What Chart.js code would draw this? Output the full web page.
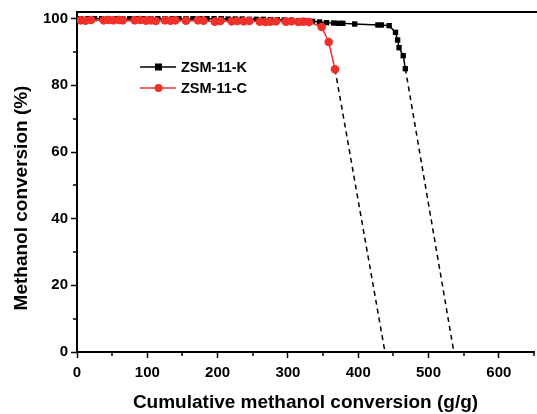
<!DOCTYPE html>
<html>
<head>
<meta charset="utf-8">
<script src="https://cdn.jsdelivr.net/npm/chart.js@4/dist/chart.umd.min.js"></script>
<style>
  html, body { margin: 0; padding: 0; background: #fff; overflow: hidden; }
  #wrap { width: 537px; height: 414px; overflow: hidden; position: relative; }
  canvas { display: block; }
</style>
</head>
<body>
<div id="wrap"><canvas id="c" width="540" height="414"></canvas></div>
<script>
// ---- data ----
const kX = [5, 15, 25, 35, 45, 55, 65, 75, 85, 95, 105, 115, 125, 135, 145, 155, 165, 175, 185, 195,
            205, 215, 225, 235, 245, 255, 265, 275, 285, 295, 305, 315, 325, 335, 345, 355, 365, 372,
            378, 395, 428, 433, 444, 453, 456, 458, 464, 467];
const kY = [100, 100, 100, 100, 100, 100, 100, 100, 100, 100, 100, 100, 100, 100, 100, 100, 100, 100, 100, 100,
            100, 99.9, 99.9, 99.9, 99.8, 99.8, 99.8, 99.7, 99.7, 99.6, 99.5, 99.4, 99.3, 99.2, 99.0, 98.8, 98.7, 98.6,
            98.6, 98.4, 98.1, 98.1, 97.9, 95.9, 93.6, 91.3, 88.9, 85.0];
const cX = [5, 12, 20, 38, 45, 52, 60, 65, 82, 90, 98, 105, 112, 125, 133, 140, 155, 172, 180, 196,
            204, 220, 228, 237, 245, 260, 268, 275, 283, 297, 305, 315, 322, 330, 348, 358, 367];
const cY = [99.5, 99.4, 99.6, 99.5, 99.6, 99.5, 99.6, 99.5, 99.5, 99.6, 99.4, 99.5, 99.3, 99.5, 99.4, 99.5, 99.4, 99.5, 99.4, 99.1,
            99.3, 99.2, 99.3, 99.2, 99.3, 99.1, 99.0, 99.1, 99.2, 99.1, 99.2, 99.0, 99.1, 99.0, 97.5, 93.0, 84.8];
const kExtX = [467, 536];
const kExtY = [85.0, 0];
const cExtX = [367, 438];
const cExtY = [84.8, 0];
const xTicks = [0, 50, 100, 150, 200, 250, 300, 350, 400, 450, 500, 550, 600, 650];
const xLabels = ['0', '', '100', '', '200', '', '300', '', '400', '', '500', '', '600', ''];
const yTicks = [0, 10, 20, 30, 40, 50, 60, 70, 80, 90, 100];
const yLabels = ['0', '', '20', '', '40', '', '60', '', '80', '', '100'];
const seriesNames = ['ZSM-11-K', 'ZSM-11-C'];
const xTitle = 'Cumulative methanol conversion (g/g)';
const yTitle = 'Methanol conversion (%)';

const RED = '#f0302a';
const FONT = "'Liberation Sans', Arial, sans-serif";

const pts = (xs, ys) => xs.map((x, i) => ({ x: x, y: ys[i] }));

const framePlugin = {
  id: 'frame',
  afterDraw(chart) {
    const ctx = chart.ctx, a = chart.chartArea;
    const xs = chart.scales.x, ys = chart.scales.y;
    ctx.save();
    ctx.strokeStyle = '#000';
    // top frame line
    ctx.lineWidth = 2;
    ctx.beginPath(); ctx.moveTo(a.left - 1, a.top); ctx.lineTo(a.right + 5, a.top); ctx.stroke();
    // minor ticks
    ctx.lineWidth = 1.5;
    xTicks.forEach((v, i) => {
      if (xLabels[i] === '') {
        const px = Math.round(xs.getPixelForValue(v));
        ctx.beginPath(); ctx.moveTo(px, a.bottom); ctx.lineTo(px, a.bottom + 4); ctx.stroke();
      }
    });
    yTicks.forEach((v, i) => {
      if (yLabels[i] === '') {
        const py = Math.round(ys.getPixelForValue(v));
        ctx.beginPath(); ctx.moveTo(a.left, py); ctx.lineTo(a.left - 4, py); ctx.stroke();
      }
    });
    // y-axis title (slightly below centre, as in the reference)
    ctx.save();
    ctx.translate(22, 198);
    ctx.rotate(-Math.PI / 2);
    ctx.fillStyle = '#000';
    ctx.font = 'bold 19px ' + FONT;
    ctx.textAlign = 'center';
    ctx.textBaseline = 'middle';
    ctx.fillText(yTitle, 0, 0);
    ctx.restore();
    // legend
    const legend = [
      { name: seriesNames[0], color: '#000', style: 'rect', y: 67 },
      { name: seriesNames[1], color: RED, style: 'circle', y: 88 }
    ];
    legend.forEach(l => {
      ctx.strokeStyle = l.color; ctx.fillStyle = l.color; ctx.lineWidth = 1.5;
      ctx.beginPath(); ctx.moveTo(140, l.y); ctx.lineTo(176, l.y); ctx.stroke();
      if (l.style === 'rect') { ctx.fillRect(155, l.y - 3.5, 7, 7); }
      else { ctx.beginPath(); ctx.arc(158.5, l.y, 4, 0, Math.PI * 2); ctx.fill(); }
      ctx.fillStyle = '#000';
      ctx.font = 'bold 14.5px ' + FONT;
      ctx.textBaseline = 'middle';
      ctx.textAlign = 'left';
      ctx.fillText(l.name, 181, l.y + 0.5);
    });
    ctx.restore();
  }
};

new Chart(document.getElementById('c'), {
  type: 'scatter',
  data: {
    datasets: [
      { label: seriesNames[1], data: pts(cX, cY), showLine: true, borderColor: RED, backgroundColor: RED,
        borderWidth: 1.5, pointStyle: 'circle', pointRadius: 4.3, pointBorderWidth: 0, order: 0 },
      { label: seriesNames[0], data: pts(kX, kY), showLine: true, borderColor: '#000', backgroundColor: '#000',
        borderWidth: 1.5, pointStyle: 'rect', pointRadius: 3.8, pointBorderWidth: 0, order: 1 },
      { label: 'kext', data: pts(kExtX, kExtY), showLine: true, borderColor: '#000', borderWidth: 1.5,
        borderDash: [5, 4], pointRadius: 0, order: 2 },
      { label: 'cext', data: pts(cExtX, cExtY), showLine: true, borderColor: '#000', borderWidth: 1.5,
        borderDash: [5, 4], pointRadius: 0, order: 2 }
    ]
  },
  options: {
    responsive: false,
    animation: false,
    layout: { padding: { top: 11, right: 0, left: 0, bottom: 0 } },
    plugins: { legend: { display: false }, tooltip: { enabled: false } },
    scales: {
      x: {
        type: 'linear', min: 0, max: 650,
        afterBuildTicks: s => { s.ticks = xTicks.map(v => ({ value: v })); },
        afterFit: s => { s.height = 62; },
        ticks: {
          autoSkip: false, maxRotation: 0, color: '#000', padding: 6,
          font: { family: FONT, size: 15, weight: 'bold' },
          callback: (v, i) => xLabels[i]
        },
        grid: {
          drawOnChartArea: false, drawTicks: true, tickLength: 6, tickWidth: 1.5,
          tickColor: c => (c.tick && xLabels[xTicks.indexOf(c.tick.value)] !== '') ? '#000' : 'rgba(0,0,0,0)'
        },
        border: { color: '#000', width: 2 },
        title: { display: true, text: xTitle, color: '#000', padding: { top: 0, bottom: 0 },
                 font: { family: FONT, size: 19, weight: 'bold' } }
      },
      y: {
        type: 'linear', min: 0, max: 102,
        afterBuildTicks: s => { s.ticks = yTicks.map(v => ({ value: v })); },
        afterFit: s => { s.width = 77; },
        ticks: {
          autoSkip: false, color: '#000', padding: 3,
          font: { family: FONT, size: 15, weight: 'bold' },
          callback: (v, i) => yLabels[i]
        },
        grid: {
          drawOnChartArea: false, drawTicks: true, tickLength: 6, tickWidth: 1.5,
          tickColor: c => (c.tick && yLabels[yTicks.indexOf(c.tick.value)] !== '') ? '#000' : 'rgba(0,0,0,0)'
        },
        border: { color: '#000', width: 2 },
        title: { display: false }
      }
    }
  },
  plugins: [framePlugin]
});
</script>
</body>
</html>
